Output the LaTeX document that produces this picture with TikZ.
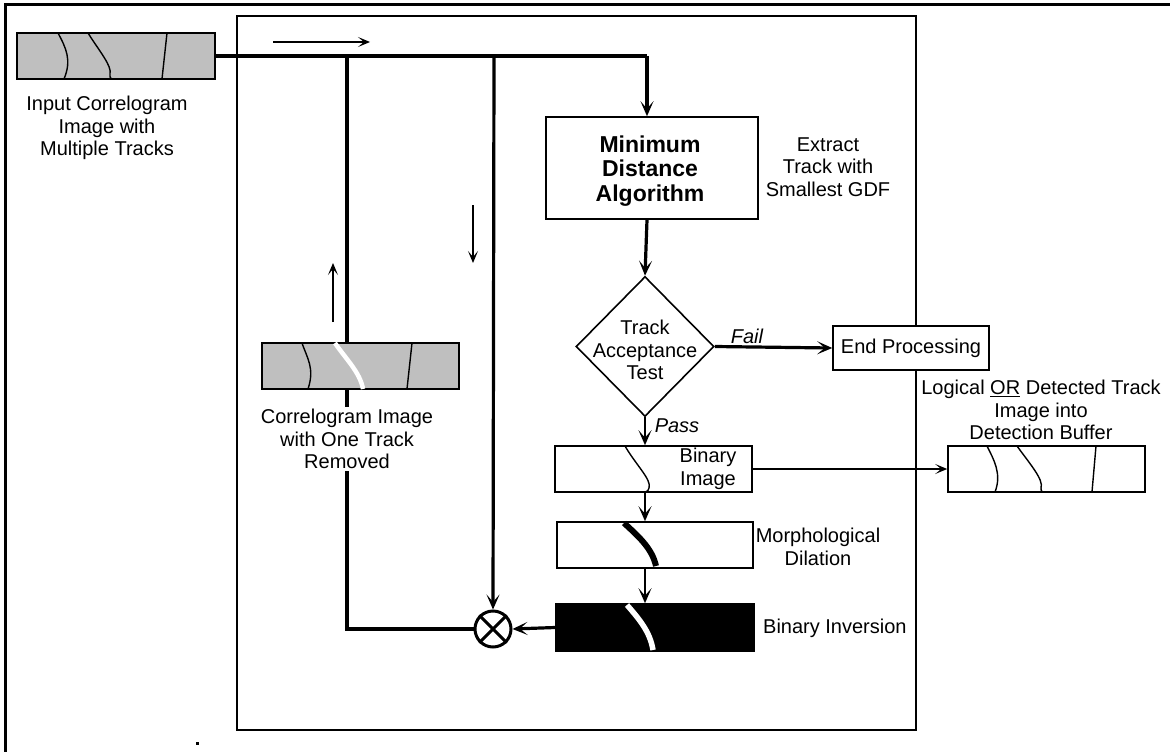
\documentclass[tikz,border=0pt]{standalone}
\usepackage{fontspec}
\setmainfont{Liberation Sans}
\usetikzlibrary{arrows.meta,shapes.geometric}
\begin{document}
\begin{tikzpicture}[x=1pt,y=-1pt,
  >={Stealth[length=15pt,width=13pt,inset=7.5pt]},
  thinarr/.style={line width=1.3pt,-{Stealth[length=12pt,width=10pt,inset=6pt]}},
  thickln/.style={line width=3.2pt},
  img/.style={draw,line width=1.6pt,rectangle,minimum width=197pt,minimum height=46pt,inner sep=0pt},
  grayimg/.style={img,fill=black!25},
  lbl/.style={font=\fontsize{20}{22.5}\selectfont,align=center,inner sep=0pt},
  lblit/.style={font=\fontsize{20}{22.5}\selectfont\itshape,inner sep=0pt},
  trk/.style={line width=1.4pt}
]
\useasboundingbox (0,0) rectangle (1170,752);
% frames
\draw[line width=3pt] (5,752) -- (5,5) -- (1170,5);
\draw[line width=1.8pt] (237,16) rectangle (916,730);
\fill (195.5,741.5) rectangle (198.5,744.5);

% input image
\node[grayimg,minimum width=198pt] (in) at (116,56) {};
\draw[trk] (58,33) .. controls (66,48) and (72,60) .. (64,79);
\draw[trk] (88,33) .. controls (100,52) and (112,66) .. (110,74) .. controls (110,78) .. (112,79);
\draw[trk] (167,33) -- (162,79);
\node[lbl] (inl) at (107,128) {Input Correlogram\\Image with\\Multiple Tracks};

% image with one track removed
\node[grayimg] (rm) at (360.5,366) {};
\draw[trk] (302,343) .. controls (307,358) and (315,368) .. (308,389);
\draw[white,line width=4.5pt] (335,343) .. controls (345,358) and (360,372) .. (363,389);
\draw[trk] (412,343) -- (407,389);

% minimum distance
\node[draw,line width=1.6pt,minimum width=212pt,minimum height=102pt,inner sep=0pt] (md) at (652,168) {};
\node[font=\fontsize{23}{24.5}\selectfont\bfseries,align=center,inner sep=0pt] (mdt) at (650,171) {Minimum\\Distance\\Algorithm};
\node[lbl] (mdl) at (828,167) {Extract\\Track with\\Smallest GDF};

% decision
\node[draw,diamond,line width=1.6pt,minimum width=138pt,minimum height=140pt,inner sep=0pt] (dia) at (645,346.5) {};
\node[lbl] (dial) at (645,350) {Track\\Acceptance\\Test};

% end processing
\node[draw,fill=white,line width=1.6pt,minimum width=156pt,minimum height=44pt,inner sep=0pt,
  font=\fontsize{20}{22.5}\selectfont] (end) at (911,348) {End Processing};

% binary image
\node[img] (bin) at (653.5,469) {};
\draw[trk] (625,446) .. controls (636,465) and (652,480) .. (649,488) .. controls (648,491) .. (645,492);
\node[lbl] (binl) at (708,469) {Binary\\Image};

% detection buffer
\node[img,fill=white] (det) at (1046.5,469) {};
\draw[trk] (987,446) .. controls (994,460) and (1002,474) .. (995,492);
\draw[trk] (1017,446) .. controls (1030,464) and (1044,480) .. (1041,488) .. controls (1041,491) .. (1043,492);
\draw[trk] (1096,446) -- (1092,492);
\node[lbl] (detl) at (1041,410) {Logical \underline{OR} Detected Track\\Image into\\Detection Buffer};

% morphological dilation
\node[img,minimum width=196pt] (mor) at (655,545) {};
\draw[line width=6pt] (624,523) .. controls (638,536) and (652,548) .. (656,566);
\node[lbl] (morl) at (818,547) {Morphological\\Dilation};

% binary inversion
\node[img,fill=black,minimum width=198pt,minimum height=47pt] (inv) at (655,627.5) {};
\draw[white,line width=5.5pt] (627,605) .. controls (640,620) and (650,632) .. (653,650);
\node[lbl,anchor=west] (invl) at (763,628) {Binary Inversion};

% multiplier
\node[draw,circle,line width=3pt,minimum size=36pt,inner sep=0pt] (mul) at (493,629) {};
\draw[line width=3pt] (mul.north east) -- (mul.south west) (mul.north west) -- (mul.south east);

% main flow
\coordinate (j1) at (347,56);
\coordinate (j2) at (494,56);
\coordinate (j3) at (647,56);
\draw[thickln] (in.east) -- (j3);
\draw[thickln,->] (j3) -- (j3 |- md.north);
\draw[thickln] (j1) -- (j1 |- rm.north);
\draw[thickln,->] (j2) -- (mul.north);
\draw[thickln] (j1 |- rm.south) |- (mul.west);
\node[lbl,fill=white,inner sep=2pt] (rml) at (347,439) {Correlogram Image\\with One Track\\Removed};
\draw[thickln,->] (md.south -| j3) -- (dia.north);
\draw[thickln,->] (dia.east) -- (end.west);
\node[lblit] (fail) at (747,336) {Fail};
\draw[line width=1.8pt,->] (dia.south) -- (dia.south |- bin.north);
\node[lblit] (pass) at (677,426) {Pass};
\draw[line width=1.6pt,->] (bin.south -| dia.south) -- (dia.south |- mor.north);
\draw[line width=1.6pt,->] (mor.south -| dia.south) -- (dia.south |- inv.north);
\draw[thickln,->] (inv.west) -- (mul.east);
\draw[thinarr] (bin.east) -- (det.west);

% direction indicators
\coordinate (a1) at (273,42); \coordinate (a2) at (370,42);
\draw[thinarr] (a1) -- (a2);
\coordinate (u1) at (333,322); \coordinate (u2) at (333,263);
\draw[thinarr] (u1) -- (u2);
\coordinate (d1) at (473,205); \coordinate (d2) at (473,263);
\draw[thinarr] (d1) -- (d2);
\end{tikzpicture}
\end{document}
